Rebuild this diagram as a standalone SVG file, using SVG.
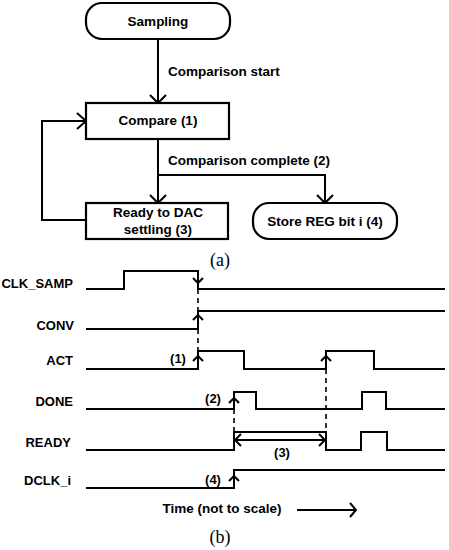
<svg xmlns="http://www.w3.org/2000/svg" width="449" height="550" viewBox="0 0 449 550">
<style>
.box{fill:#fff;stroke:#000;stroke-width:2.2}
.ln{fill:none;stroke:#000;stroke-width:2}
.ah{fill:none;stroke:#000;stroke-width:2}
.dash{fill:none;stroke:#000;stroke-width:1.6;stroke-dasharray:5,4}
.t{font-family:"Liberation Sans",Arial,sans-serif;font-weight:bold;font-size:13.5px;fill:#000}
.tl{font-family:"Liberation Sans",Arial,sans-serif;font-weight:bold;font-size:13px;fill:#000}
.c{text-anchor:middle}
.r{text-anchor:end}
.cap{font-family:"Liberation Serif","Times New Roman",serif;font-size:18px;fill:#000;text-anchor:middle}
</style>
<rect width="449" height="550" fill="#fff"/>
<g id="connectors">
<path class="ln" d="M158,39 V102"/>
<path class="ah" d="M150,95 L158,103 L166,95"/>
<path class="ln" d="M158,139 V202"/>
<path class="ah" d="M150,195 L158,203 L166,195"/>
<path class="ln" d="M158,175 H325 V202"/>
<path class="ah" d="M317,195 L325,203 L333,195"/>
<path class="ln" d="M86,220 H42 V121 H85"/>
<path class="ah" d="M77,113 L86,121 L77,129"/>
<text class="t" x="168" y="75.7">Comparison start</text>
<text class="t" x="168" y="164.7">Comparison complete (2)</text>
</g>
<g id="sampling">
<rect class="box" x="86" y="3" width="144" height="36" rx="16"/>
<text class="t c" x="158" y="25.7">Sampling</text>
</g>
<g id="compare">
<rect class="box" x="86" y="103" width="143" height="36"/>
<text class="t c" x="158" y="124.7">Compare (1)</text>
</g>
<g id="ready">
<rect class="box" x="86" y="203" width="142" height="36"/>
<text class="t c" x="158" y="216.7">Ready to DAC</text>
<text class="t c" x="158" y="233.7">settling (3)</text>
</g>
<g id="store">
<rect class="box" x="253" y="203" width="144" height="36" rx="16"/>
<text class="t c" x="325" y="225.7">Store REG bit i (4)</text>
</g>
<text class="cap" x="220" y="266">(a)</text>
<g id="timing">
<text class="tl r" x="73" y="287.5">CLK_SAMP</text>
<text class="tl r" x="74" y="329.5">CONV</text>
<text class="tl r" x="73" y="364.5">ACT</text>
<text class="tl r" x="73" y="405.5">DONE</text>
<text class="tl r" x="71" y="446.5">READY</text>
<text class="tl r" x="71" y="484.5">DCLK_i</text>
<path class="ln" d="M86,289 H124 V271 H198 V289 H445"/>
<path class="ln" d="M86,329 H198 V311 H445"/>
<path class="ln" d="M86,369 H198 V351 H244 V369 H326 V351 H374 V369 H445"/>
<path class="ln" d="M86,409 H234 V392 H256 V409 H362 V392 H386 V409 H445"/>
<path class="ln" d="M86,450 H234 V432 H326 V450 H361 V432 H387 V450 H445"/>
<path class="ln" d="M86,488 H234 V470 H445"/>
<path class="dash" d="M198,289 V311 M198,329 V351"/>
<path class="dash" d="M326,351 V432"/>
<path class="dash" d="M234,409 V432"/>
<path class="ah" d="M193,278 L198,283 L203,278"/>
<path class="ah" d="M193,320 L198,315 L203,320"/>
<path class="ah" d="M193,361 L198,356 L203,361"/>
<path class="ah" d="M321,361 L326,356 L331,361"/>
<path class="ah" d="M229,403 L234,398 L239,403"/>
<path class="ah" d="M229,481 L234,476 L239,481"/>
<path class="ln" d="M235,440 H325"/>
<path class="ah" d="M241,434 L235,440 L241,446"/>
<path class="ah" d="M319,434 L325,440 L319,446"/>
<text class="tl c" x="178" y="362.5">(1)</text>
<text class="tl c" x="213" y="402.5">(2)</text>
<text class="tl c" x="282" y="456.5">(3)</text>
<text class="tl c" x="213" y="483.5">(4)</text>
<text class="t c" x="222" y="512.7">Time (not to scale)</text>
<path class="ln" d="M297,510 H355"/>
<path class="ah" d="M350,503 L356,510 L350,517"/>
</g>
<text class="cap" x="220" y="543">(b)</text>
</svg>
